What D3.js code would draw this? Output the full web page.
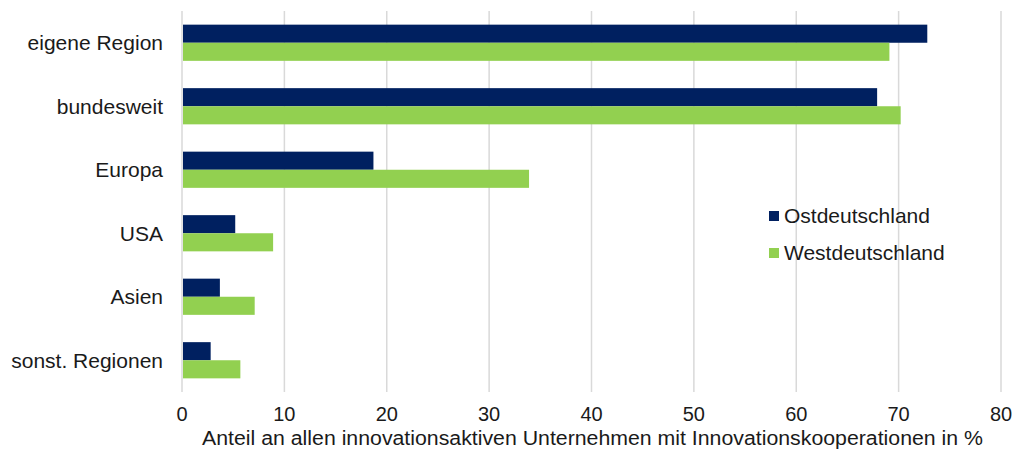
<!DOCTYPE html>
<html>
<head>
<meta charset="utf-8">
<script src="https://cdn.jsdelivr.net/npm/d3@7"></script>
<style>
  body { margin: 0; background: #fff; }
  text { font-family: "Liberation Sans", Arial, sans-serif; fill: #1a1a1a; }
</style>
</head>
<body>
<div id="chart"></div>
<script>
const categories = ["eigene Region", "bundesweit", "Europa", "USA", "Asien", "sonst. Regionen"];
const seriesNames = ["Ostdeutschland", "Westdeutschland"];
const ost = [72.8, 67.9, 18.7, 5.2, 3.7, 2.8];
const west = [69.1, 70.2, 33.9, 8.9, 7.1, 5.7];
const xTicks = [0, 10, 20, 30, 40, 50, 60, 70, 80];
const colors = ["#002060", "#92D050"];
const axisTitle = "Anteil an allen innovationsaktiven Unternehmen mit Innovationskooperationen in %";

const W = 1014, H = 450;
const margin = { top: 11, right: 13, bottom: 58, left: 182 };
const width = W - margin.left - margin.right;
const height = H - margin.top - margin.bottom;

const svg = d3.select("#chart").append("svg")
  .attr("width", W).attr("height", H);
const g = svg.append("g").attr("transform", `translate(${margin.left},${margin.top})`);

const x = d3.scaleLinear().domain([0, 80]).range([0, width]);
const y = d3.scaleBand().domain(categories).range([0, height]).paddingInner(0.43).paddingOuter(0.215);
const ySub = d3.scaleBand().domain(seriesNames).range([0, y.bandwidth()]);

// gridlines
g.selectAll(".grid").data(xTicks).enter().append("line")
  .attr("x1", d => x(d)).attr("x2", d => x(d))
  .attr("y1", 0).attr("y2", height)
  .attr("stroke", "#d9d9d9").attr("stroke-width", 1.5);

const data = categories.map((c, i) => ({ cat: c, vals: [ost[i], west[i]] }));

const groups = g.selectAll(".cat").data(data).enter().append("g")
  .attr("transform", d => `translate(0,${y(d.cat)})`);

groups.selectAll("rect").data(d => d.vals.map((v, j) => ({ v, s: seriesNames[j], j })))
  .enter().append("rect")
  .attr("x", x(0) + 1)
  .attr("y", d => ySub(d.s))
  .attr("width", d => x(d.v) - x(0) - 1)
  .attr("height", ySub.bandwidth())
  .attr("fill", d => colors[d.j]);

// category labels
g.selectAll(".ylab").data(categories).enter().append("text")
  .attr("x", -19)
  .attr("y", d => y(d) + y.bandwidth() / 2)
  .attr("dy", "0.35em")
  .attr("text-anchor", "end")
  .style("font-size", "21px")
  .text(d => d);

// x tick labels
g.selectAll(".xlab").data(xTicks).enter().append("text")
  .attr("x", d => x(d))
  .attr("y", height + 29)
  .attr("text-anchor", "middle")
  .style("font-size", "20px")
  .text(d => d);

// axis title
svg.append("text")
  .attr("x", margin.left + width / 2 + 1)
  .attr("y", 445)
  .attr("text-anchor", "middle")
  .attr("textLength", 781)
  .attr("lengthAdjust", "spacingAndGlyphs")
  .style("font-size", "20px")
  .text(axisTitle);

// legend
const legend = svg.append("g").attr("transform", "translate(769,206)");
seriesNames.forEach((s, i) => {
  const row = legend.append("g").attr("transform", `translate(0,${i * 37})`);
  row.append("rect").attr("x", 0).attr("y", 5).attr("width", 10).attr("height", 10).attr("fill", colors[i]);
  row.append("text").attr("x", 15).attr("y", 10).attr("dy", "0.35em")
    .style("font-size", "21px").text(s);
});
</script>
</body>
</html>
